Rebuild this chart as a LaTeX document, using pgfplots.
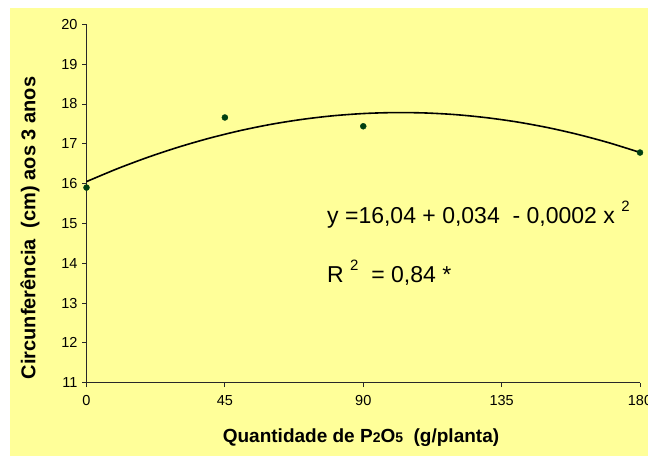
\documentclass[border=0pt]{standalone}
\usepackage{pgfplots}
\pgfplotsset{compat=1.18}
\usepackage{fontspec}
\setmainfont{Liberation Sans}
\definecolor{bgyellow}{RGB}{255,255,153}
\definecolor{ptgreen}{RGB}{0,64,16}
\definecolor{axgray}{RGB}{40,40,40}
\begin{document}
\begin{tikzpicture}[x=1pt,y=1pt]
\useasboundingbox (0,0) rectangle (648,456);
\fill[bgyellow] (10,0) rectangle (648,448);
\begin{axis}[
  at={(86.5pt,73.3pt)}, anchor=south west,
  scale only axis, width=553.5pt, height=358.4pt,
  xmin=0, xmax=180, ymin=11, ymax=20,
  axis x line*=bottom, axis y line*=left,
  axis line style={axgray, line width=0.8pt},
  xtick={0,45,90,135,180}, ytick={11,12,...,20},
  tick align=outside, major tick length=4.5pt,
  tick style={axgray, line width=0.8pt},
  /pgf/number format/assume math mode=true,
  ticklabel style={font=\fontsize{14.5}{16}\selectfont},
  xticklabel style={yshift=-5pt},
  yticklabel style={xshift=-1pt},
  clip=false,
]
\addplot[black, line width=1.6pt, smooth] coordinates {
(0,16.050) (10,16.373) (20,16.662) (30,16.918) (40,17.141) (50,17.331)
(60,17.488) (70,17.611) (80,17.702) (90,17.759) (100,17.783) (110,17.774)
(120,17.732) (130,17.656) (140,17.548) (150,17.406) (160,17.231) (170,17.023)
(180,16.782)};
\addplot[only marks, mark=*, mark size=3pt, ptgreen] coordinates {
(0,15.90) (45,17.66) (90,17.44) (180,16.78)};
\end{axis}
\node[font=\fontsize{19}{22}\selectfont\bfseries] at (361,18)
  {Quantidade de P{\fontsize{14}{14}\selectfont 2}O{\fontsize{14}{14}\selectfont 5}\ \ (g/planta)};
\node[font=\fontsize{20}{22}\selectfont\bfseries, rotate=90] at (30,228)
  {Circunferência\ \ (cm) aos 3 anos};
\node[anchor=west, font=\fontsize{23}{26}\selectfont, inner sep=0pt] at (327,241)
  {y =16,04 + 0,034\ \ - 0,0002 x \raisebox{1.0ex}{\fontsize{15}{15}\selectfont 2}};
\node[anchor=west, font=\fontsize{23}{26}\selectfont, inner sep=0pt] at (327,183)
  {R \raisebox{1.0ex}{\fontsize{15}{15}\selectfont 2}\ \ = 0,84 *};
\end{tikzpicture}
\end{document}
